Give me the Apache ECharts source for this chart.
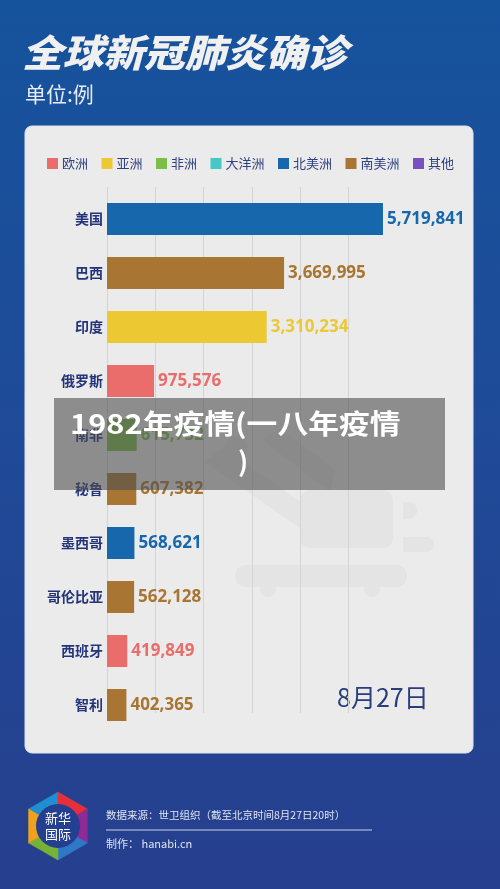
<!DOCTYPE html>
<html>
<head>
<meta charset="utf-8">
<script src="https://cdn.jsdelivr.net/npm/echarts@6/dist/echarts.min.js"></script>
<style>
html,body{margin:0;padding:0;width:500px;height:889px;overflow:hidden;}
#c{width:500px;height:889px;}
</style>
</head>
<body>
<div id="c"></div>
<script>
// ---- data ----
var categories = ['美国','巴西','印度','俄罗斯','南非','秘鲁','墨西哥','哥伦比亚','西班牙','智利'];
var values = [5719841, 3669995, 3310234, 975576, 615732, 607382, 568621, 562128, 419849, 402365];
var regionOf = ['北美洲','南美洲','亚洲','欧洲','非洲','南美洲','北美洲','南美洲','欧洲','南美洲'];
var regions = ['欧洲','亚洲','非洲','大洋洲','北美洲','南美洲','其他'];
var regionColors = ['#ea6d6c','#ecc833','#7cbf48','#46c8c6','#1767ad','#a87533','#7c4fbf'];
var gridTicks = [0, 1000000, 2000000, 3000000, 4000000, 5000000];

var colorMap = {};
regions.forEach(function(r, i){ colorMap[r] = regionColors[i]; });

var chart = echarts.init(document.getElementById('c'), null, {renderer:'canvas'});

var barData = values.map(function(v, i){
  var col = colorMap[regionOf[i]];
  return { value: v, itemStyle: { color: col }, label: { color: col } };
});

var legendSeries = regions.map(function(r, i){
  return { name: r, type: 'bar', xAxisIndex: 1, yAxisIndex: 1, data: [], itemStyle: { color: regionColors[i] } };
});

var bgBlue = '#243f8f';
var wm = '#e4e4e4';

var option = {
  backgroundColor: { type:'linear', x:0, y:0, x2:0, y2:1,
    colorStops:[{offset:0,color:'#16539d'},{offset:0.5,color:'#1f4a97'},{offset:1,color:'#263f8e'}] },
  animation: false,
  legend: {
    data: regions, left: 42, top: 152, icon: 'rect', itemWidth: 11, itemHeight: 11, itemGap: 13.5,
    textStyle: { fontSize: 13, color: '#2f3f80', fontFamily: '"Noto Sans CJK SC"', padding: [0,0,0,-1] }
  },
  grid: [
    { left: 107, top: 192, width: 289.5, height: 540, containLabel: false },
    { left: 107, top: 187, width: 241.25, height: 526, containLabel: false }
  ],
  xAxis: [
    { type:'value', gridIndex:0, min:0, max:6000000, show:false },
    { type:'value', gridIndex:1, min:gridTicks[0], max:gridTicks[gridTicks.length-1], interval:1000000,
      axisLine:{show:false}, axisTick:{show:false}, axisLabel:{show:false},
      splitLine:{show:true, lineStyle:{color:'#d3d3d3', width:1}} }
  ],
  yAxis: [
    { type:'category', gridIndex:0, data: categories, inverse:true,
      axisLine:{show:false}, axisTick:{show:false},
      axisLabel:{ margin:4, fontSize:14, fontWeight:'bold', color:'#24347a', fontFamily:'"Noto Sans CJK SC"' } },
    { type:'category', gridIndex:1, data:[''], show:false }
  ],
  series: [
    { type:'bar', xAxisIndex:0, yAxisIndex:0, data: barData, barWidth: 32, z: 5,
      label: { show:true, position:'right', distance:4, fontSize:17, fontWeight:'bold',
        fontFamily:'"Open Sans","Noto Sans CJK SC"',
        formatter: function(p){ return p.value.toLocaleString('en-US'); } } }
  ].concat(legendSeries),
  graphic: [
    // panel
    { type:'rect', z:-20, silent:true, shape:{x:25, y:126, width:448, height:627, r:7},
      style:{ fill:'#ebebeb', stroke:'#dfe3ea', lineWidth:1 } },
    // faint watermark icon
    { type:'polygon', z:-19, silent:true, shape:{points:[[205,462],[222,447],[305,505],[300,528]]}, style:{fill:wm} },
    { type:'polygon', z:-19, silent:true, shape:{points:[[262,440],[280,428],[336,470],[330,492]]}, style:{fill:wm} },
    { type:'circle', z:-19, silent:true, shape:{cx:236, cy:447, r:11}, style:{fill:wm} },
    { type:'rect', z:-19, silent:true, shape:{x:300, y:490, width:93, height:58, r:10}, style:{fill:wm} },
    { type:'rect', z:-19, silent:true, shape:{x:235, y:565, width:172, height:22, r:11}, style:{fill:wm} },
    { type:'circle', z:-19, silent:true, shape:{cx:268, cy:589, r:8}, style:{fill:wm} },
    { type:'circle', z:-19, silent:true, shape:{cx:372, cy:589, r:8}, style:{fill:wm} },
    { type:'rect', z:-19, silent:true, shape:{x:403, y:502, width:14, height:17, r:[0,8,8,0]}, style:{fill:wm} },
    { type:'rect', z:-19, silent:true, shape:{x:403, y:537, width:31, height:15, r:[0,8,8,0]}, style:{fill:wm} },
    // title
    { type:'text', silent:true, x:22, y:53, scaleX:1.07,
      style:{ text:'全球新冠肺炎确诊', fill:'#f0f0f0', font:'italic 900 38px "Noto Sans CJK SC"', textVerticalAlign:'middle' } },
    { type:'text', silent:true, x:25, y:94,
      style:{ text:'单位:例', fill:'#e8ecf4', font:'400 21px "Noto Sans CJK SC"', textVerticalAlign:'middle' } },
    // date
    { type:'text', silent:true, x:337, y:697,
      style:{ text:'8月27日', fill:'#2a3d7e', font:'400 25px "Noto Sans CJK SC"', textVerticalAlign:'middle' } },
    // overlay
    { type:'rect', z:100, silent:true, shape:{x:54, y:398, width:391, height:92}, style:{fill:'rgba(78,78,78,0.6)'} },
    { type:'text', z:101, silent:true, x:70, y:424, scaleX:1.14,
      style:{ text:'1982年疫情(一八年疫情', fill:'#ffffff', font:'700 27px "Noto Sans CJK SC"', textVerticalAlign:'middle' } },
    { type:'text', z:101, silent:true, x:243, y:462,
      style:{ text:')', fill:'#ffffff', font:'700 27px "Noto Sans CJK SC"', textAlign:'center', textVerticalAlign:'middle' } },
    // footer logo
    { type:'group', silent:true, x:58, y:826, children: (function(){
        var R = 34, cols = ['#1e8fd2','#e5303c','#8e2b97','#2f78c8','#78b234','#f0a21f'];
        var angs = [210, 270, 330, 30, 90, 150];
        var out = [];
        for (var k=0;k<6;k++){
          var a1 = angs[k]*Math.PI/180, a2 = angs[(k+1)%6]*Math.PI/180;
          out.push({ type:'polygon', shape:{points:[[0,0],[R*Math.cos(a1),R*Math.sin(a1)],[R*Math.cos(a2),R*Math.sin(a2)]]},
            style:{fill:cols[k], stroke:cols[k], lineWidth:0.5} });
        }
        out.push({ type:'circle', shape:{cx:0, cy:0, r:22}, style:{fill:bgBlue} });
        out.push({ type:'text', x:0, y:0, style:{ text:'新华\n国际', fill:'#ffffff', font:'400 13px "Noto Sans CJK SC"',
          textAlign:'center', textVerticalAlign:'middle', lineHeight:16 } });
        return out;
      })() },
    { type:'text', silent:true, x:106, y:815,
      style:{ text:'数据来源：世卫组织（截至北京时间8月27日20时）', fill:'#dfe4f1', font:'400 10.5px "Noto Sans CJK SC"', textVerticalAlign:'middle' } },
    { type:'line', silent:true, shape:{x1:106, y1:830, x2:372, y2:830}, style:{stroke:'#c9d1e8', lineWidth:1} },
    { type:'text', silent:true, x:106, y:844,
      style:{ text:'制作： hanabi.cn', fill:'#dfe4f1', font:'400 11px "Noto Sans CJK SC"', textVerticalAlign:'middle' } }
  ]
};
chart.setOption(option);
</script>
</body>
</html>
